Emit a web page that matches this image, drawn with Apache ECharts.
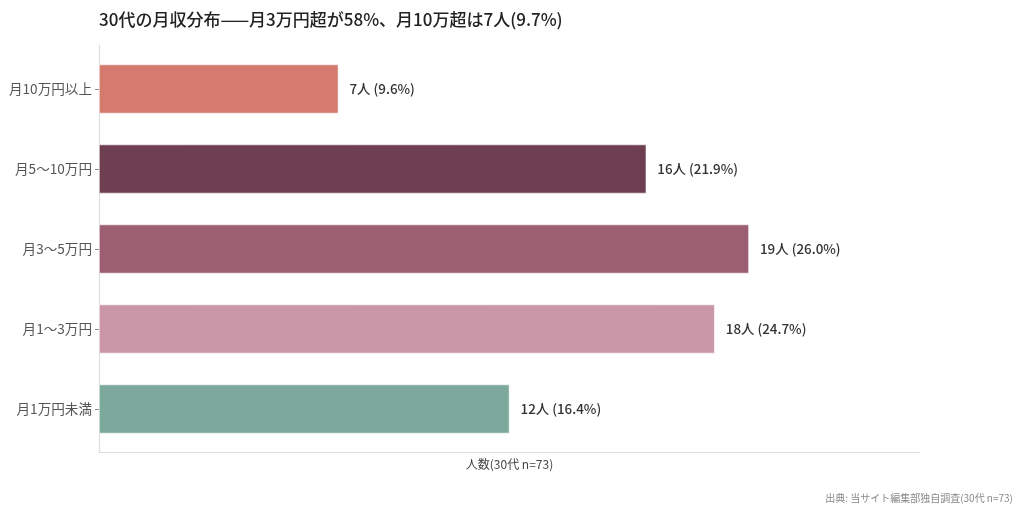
<!DOCTYPE html>
<html>
<head>
<meta charset="utf-8">
<script src="https://cdn.jsdelivr.net/npm/echarts@6/dist/echarts.min.js"></script>
<style>
  html, body { margin: 0; padding: 0; background: #fff; }
  #chart { width: 1024px; height: 509px; }
</style>
</head>
<body>
<div id="chart"></div>
<script>
// bottom to top, as the category axis draws them
var categories = ['月1万円未満', '月1〜3万円', '月3〜5万円', '月5〜10万円', '月10万円以上'];
var counts = [12, 18, 19, 16, 7];
var percents = ['16.4', '24.7', '26.0', '21.9', '9.6'];
var colors = ['#7da89c', '#c997a8', '#9c5f71', '#6d3f51', '#d47a6e'];

var FONT = '"Noto Sans CJK JP", "Noto Sans", sans-serif';

var barData = counts.map(function (v, i) {
    return { value: v, itemStyle: { color: colors[i] } };
});

var chart = echarts.init(document.getElementById('chart'));
chart.setOption({
    backgroundColor: '#fff',
    animation: false,
    textStyle: { fontFamily: FONT },
    title: [{
        text: '30代の月収分布——月3万円超が58%、月10万超は7人(9.7%)',
        left: 94,
        top: 6,
        textStyle: { fontSize: 17, fontWeight: 500, color: '#222', fontFamily: FONT }
    }, {
        text: '出典: 当サイト編集部独自調査(30代 n=73)',
        right: 6,
        top: 488,
        textStyle: { fontSize: 10, fontWeight: 'normal', color: '#888', fontFamily: FONT }
    }],
    grid: [
        // bars
        { left: 99, right: 104, top: 49, height: 400 },
        // axis frame only
        { left: 99, right: 104, top: 45, height: 407 }
    ],
    xAxis: [{
        gridIndex: 0,
        type: 'value',
        min: 0,
        max: 24,
        axisLine: { show: false },
        axisTick: { show: false },
        axisLabel: { show: false },
        splitLine: { show: false }
    }, {
        gridIndex: 1,
        type: 'value',
        min: 0,
        max: 24,
        name: '人数(30代 n=73)',
        nameLocation: 'middle',
        nameGap: 6,
        nameTextStyle: { fontSize: 12, color: '#444', fontFamily: FONT },
        axisLine: { show: true, lineStyle: { color: '#dddddd', width: 1.2 } },
        axisTick: { show: false },
        axisLabel: { show: false },
        splitLine: { show: false }
    }],
    yAxis: [{
        gridIndex: 0,
        type: 'category',
        data: categories,
        axisLine: { show: false },
        axisTick: { show: true, alignWithLabel: true, length: 4, lineStyle: { color: '#888' } },
        axisLabel: { fontSize: 13.6, color: '#555', margin: 7, fontFamily: FONT }
    }, {
        gridIndex: 1,
        type: 'value',
        min: 0,
        max: 1,
        axisLine: { show: true, lineStyle: { color: '#dddddd', width: 1.2 } },
        axisTick: { show: false },
        axisLabel: { show: false },
        splitLine: { show: false }
    }],
    series: [{
        type: 'bar',
        xAxisIndex: 0,
        yAxisIndex: 0,
        data: barData,
        barWidth: 49,
        itemStyle: { borderColor: '#ffffff', borderWidth: 0.6 },
        label: {
            show: true,
            position: 'right',
            distance: 11,
            fontSize: 13.4,
            fontWeight: 500,
            color: '#333',
            fontFamily: FONT,
            formatter: function (p) {
                return counts[p.dataIndex] + '人 (' + percents[p.dataIndex] + '%)';
            }
        }
    }]
});
</script>
</body>
</html>
